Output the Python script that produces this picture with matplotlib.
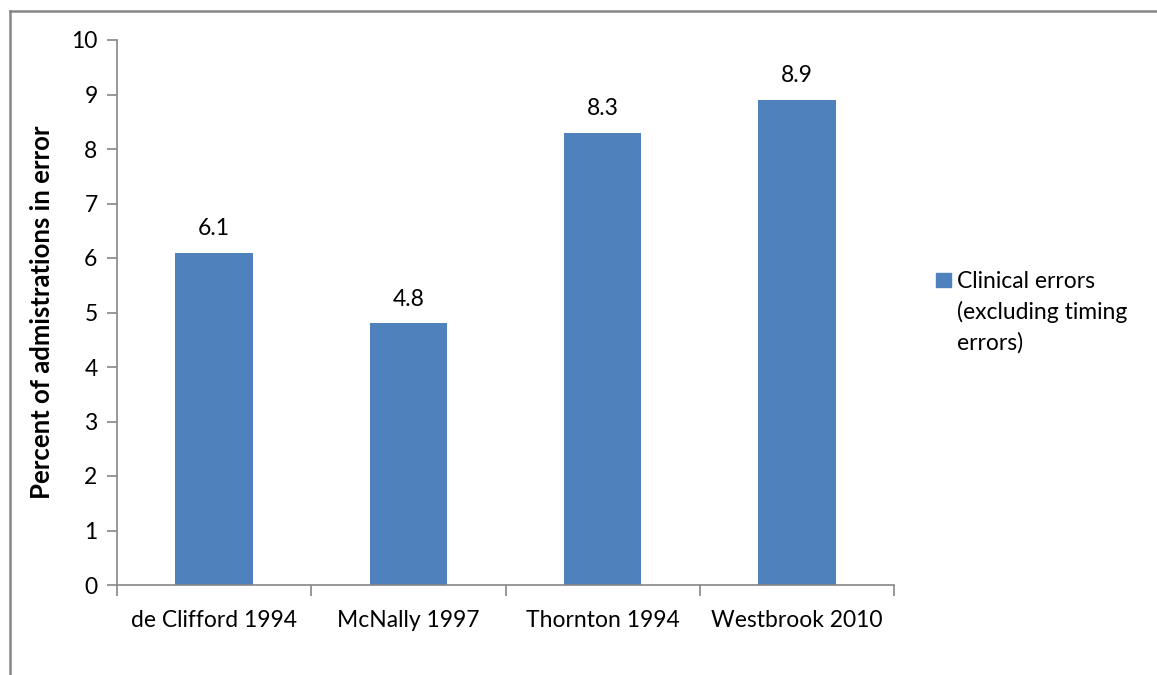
import matplotlib
matplotlib.use("Agg")
import matplotlib.pyplot as plt
from matplotlib.lines import Line2D
from matplotlib.patches import Rectangle

categories = ["de Clifford 1994", "McNally 1997", "Thornton 1994", "Westbrook 2010"]
values = [6.1, 4.8, 8.3, 8.9]
yticks = [0, 1, 2, 3, 4, 5, 6, 7, 8, 9, 10]
series_name = "Clinical errors\n(excluding timing\nerrors)"
ylabel = "Percent of admistrations in error"

W, H = 1157, 675
plt.rcParams['font.family'] = ['Lato', 'DejaVu Sans']
fig = plt.figure(figsize=(W / 100, H / 100), dpi=100)

ax_l, ax_r, ax_t, ax_b = 117, 894, 40, 585
ax = fig.add_axes([ax_l / W, 1 - ax_b / H, (ax_r - ax_l) / W, (ax_b - ax_t) / H])

FS = 16.5
bar_color = "#4F81BD"
axis_color = "#868686"
x = list(range(len(categories)))
ax.bar(x, values, width=0.4, color=bar_color, zorder=2)
for xi, v in zip(x, values):
    ax.annotate(f"{v}", (xi, v), xytext=(0, 10), textcoords="offset points",
                ha="center", va="bottom", fontsize=FS, color="black")

ax.set_xlim(-0.5, len(categories) - 0.5)
ax.set_ylim(0, 10)
ax.set_yticks(yticks)
ax.set_yticklabels([str(t) for t in yticks], fontsize=FS)
ax.set_xticks(x)
ax.set_xticklabels(categories, fontsize=FS)
ax.tick_params(axis="x", length=0, pad=18)
ax.tick_params(axis="y", length=7, width=1.2, color=axis_color, pad=7)
ax.set_xticks([i - 0.5 for i in range(len(categories) + 1)], minor=True)
ax.tick_params(axis="x", which="minor", length=8, width=1.2, color=axis_color)

for s in ["top", "right"]:
    ax.spines[s].set_visible(False)
for s in ["left", "bottom"]:
    ax.spines[s].set_color(axis_color)
    ax.spines[s].set_linewidth(1.2)

ax.set_ylabel(ylabel, fontsize=18.5, fontweight="bold")
ax.yaxis.set_label_coords((42 - ax_l) / (ax_r - ax_l), 0.5)
ax.yaxis.label.set_va("center")

# legend
fig.patches.append(Rectangle((936 / W, 1 - 287 / H), 15 / W, 14 / H,
                             transform=fig.transFigure, color=bar_color))
fig.text(957 / W, 1 - 271 / H, series_name, fontsize=FS, va="top", ha="left",
         linespacing=1.5, multialignment="left")

# chart frame (left and top edges visible)
fig.add_artist(Line2D([10 / W, 10 / W], [0, 1 - 10.5 / H], color=axis_color, lw=1.8,
                      transform=fig.transFigure))
fig.add_artist(Line2D([10 / W, 1], [1 - 10.5 / H, 1 - 10.5 / H], color=axis_color, lw=1.8,
                      transform=fig.transFigure))

fig.savefig("out.png", dpi=100)
